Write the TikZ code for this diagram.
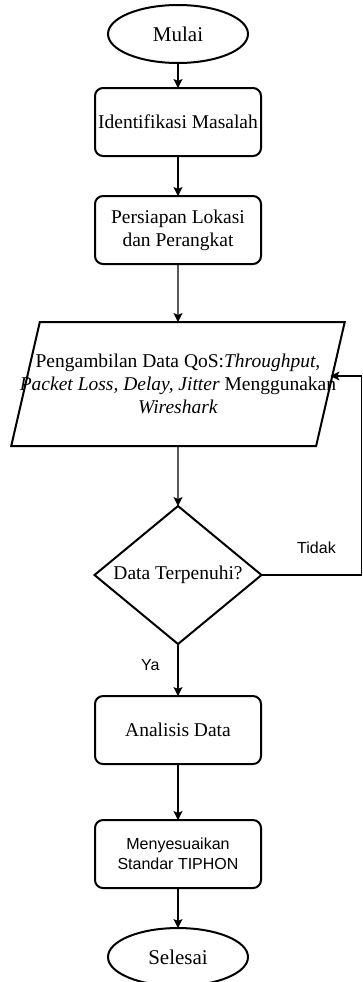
\documentclass[tikz,border=0pt]{standalone}
\usepackage{fontspec}
\setmainfont{Liberation Serif}
\setsansfont{Liberation Sans}
\usetikzlibrary{positioning}
\usetikzlibrary{shapes.geometric}
\usetikzlibrary{arrows.meta}

\begin{document}
\begin{tikzpicture}[
			node distance = 40pt,
			shapetheme/.style = {
				line width = 2pt, draw = black, fill = white,
				outer sep = 0, inner sep = 2pt, align = center,
				font = \fontsize{19.5}{23}\selectfont,
			},
			terminal/.style = {
				shapetheme, ellipse,
				minimum width = 140pt, minimum height = 58pt,
				font = \fontsize{21}{24}\selectfont,
			},
			process/.style = {
				shapetheme, rectangle, rounded corners = 8pt,
				minimum width = 166pt, minimum height = 68pt,
			},
			data/.style = {
				shapetheme, trapezium,
				trapezium left angle = 77, trapezium right angle = 103,
				trapezium stretches body, inner ysep = 32pt, inner xsep = -20pt,
				minimum height = 124pt,
			},
			decision/.style = {
				shapetheme, diamond, aspect = 1.2, inner sep = 0,
				minimum width = 167pt, minimum height = 138pt,
			},
			sans/.style = {font = \sffamily\fontsize{16}{20}\selectfont},
			line/.style = {line width = 1.2pt, draw = black},
			arrow/.style = {line, -{Stealth[length = 9pt, width = 9pt, inset = 2pt]}},
			lbl/.style = {sans, inner sep = 0},
		]

		\useasboundingbox (0,0) rectangle (363pt,-982pt);

		\node[terminal] (mulai) at (178pt,-34pt) {Mulai};
		\node[process, below = 25pt of mulai] (identifikasi) {Identifikasi Masalah};
		\node[process, below = of identifikasi] (persiapan) {Persiapan Lokasi\\dan Perangkat};
		\node[data, below = 58pt of persiapan] (ambil)
			{Pengambilan Data QoS:\textit{Throughput},\\
			\textit{Packet Loss, Delay, Jitter} Menggunakan\\
			\textit{Wireshark}};
		\node[decision, below = 60pt of ambil] (cek) {Data Terpenuhi?};
		\node[process, below = 52pt of cek] (analisis) {Analisis Data};
		\node[process, sans, below = 56pt of analisis] (standar) {Menyesuaikan\\Standar TIPHON};
		\node[terminal, below = 40pt of standar] (selesai) {Selesai};

		\coordinate[right = 100pt of cek.east] (balik);

		\draw[arrow] (mulai) -- (identifikasi);
		\draw[arrow] (identifikasi) -- (persiapan);
		\draw[arrow] (persiapan) -- (ambil);
		\draw[arrow] (ambil) -- (cek);
		\draw[arrow] (cek) -- node[lbl, pos = 0.4, left = 18pt] {Ya} (analisis);
		\draw[arrow] (cek.east) -- node[lbl, pos = 0.55, above = 21pt] {Tidak} (balik)
			|- ([yshift = 8pt]ambil.east);
		\draw[arrow] (analisis) -- (standar);
		\draw[arrow] (standar) -- (selesai);

	\end{tikzpicture}
\end{document}
